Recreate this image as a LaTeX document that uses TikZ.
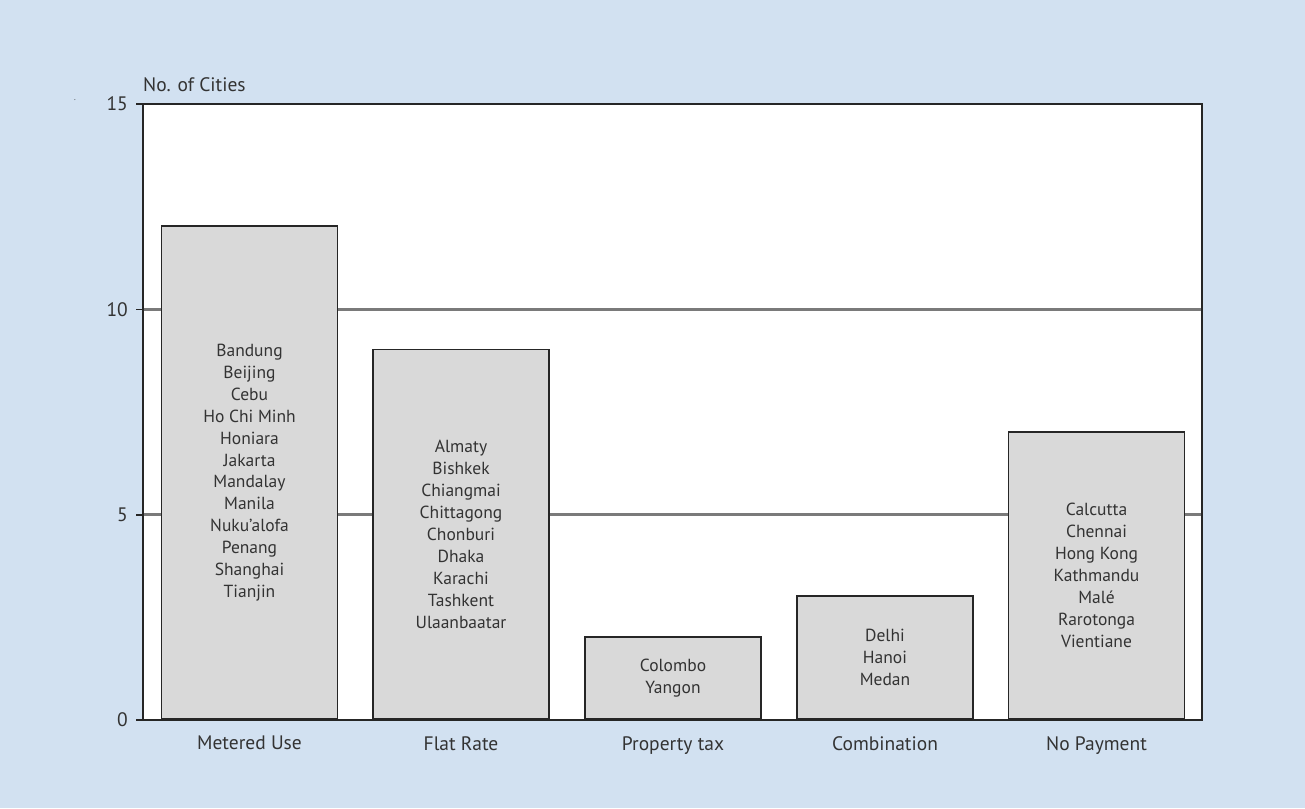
\documentclass[tikz,border=0pt]{standalone}
\usepackage{fontspec}
\setmainfont{PT Sans}
\definecolor{panel}{HTML}{D2E1F1}
\definecolor{barfill}{HTML}{D9D9D9}
\definecolor{ink}{HTML}{333333}
\definecolor{grid}{HTML}{7A7A7A}
\begin{document}
\begin{tikzpicture}[x=1pt,y=-1pt,
  every node/.style={font=\fontsize{19.5}{22}\selectfont, text=ink, inner sep=0pt},
  bar/.style={draw=black!85, line width=1.8pt, fill=barfill, anchor=south,
    minimum width=176pt, align=center, font=\fontsize{17.5}{21.9}\selectfont},
  cat/.style={anchor=north},
  tick/.style={anchor=east}]
  % background panel
  \fill[panel] (0,0) rectangle (1305,808);
  \useasboundingbox (0,0) rectangle (1305,808);
  \node (dot) at (75,100) {\fontsize{8}{8}\selectfont .};
  % plot area
  \fill[white] (143,104) rectangle (1202,720);
  % gridlines at 5 and 10
  \draw[grid, line width=2.5pt] (143,309.3) -- (1202,309.3);
  \draw[grid, line width=2.5pt] (143,514.7) -- (1202,514.7);
  % bars (41.07pt per city)
  \node[bar, minimum height=492.8pt] (b1) at (249.5,720) {Bandung\\Beijing\\Cebu\\Ho Chi Minh\\Honiara\\Jakarta\\Mandalay\\Manila\\Nuku'alofa\\Penang\\Shanghai\\Tianjin};
  \node[bar, minimum height=369.6pt] (b2) at (461,720) {Almaty\\Bishkek\\Chiangmai\\Chittagong\\Chonburi\\Dhaka\\Karachi\\Tashkent\\Ulaanbaatar};
  \node[bar, minimum height=82.1pt] (b3) at (673,720) {Colombo\\Yangon};
  \node[bar, minimum height=123.2pt] (b4) at (885,720) {Delhi\\Hanoi\\Medan};
  \node[bar, minimum height=287.5pt] (b5) at (1096.5,720) {Calcutta\\Chennai\\Hong Kong\\Kathmandu\\Malé\\Rarotonga\\Vientiane};
  % frame and axis ticks
  \draw[black!85, line width=2.4pt] (143,104) rectangle (1202,720);
  \foreach \v/\yy in {0/720,5/514.7,10/309.3,15/104}{
    \draw[black!85, line width=1.6pt] (136,\yy) -- (143,\yy);
    \node[tick] (t\v) at (128,\yy) {\v};
  }
  \node[anchor=south west] (ylab) at (143,92) {No. of Cities};
  % category labels
  \foreach \b/\t in {b1/Metered Use,b2/Flat Rate,b3/Property tax,b4/Combination,b5/No Payment}{
    \node[cat] (l\b) at ([yshift=-16pt]\b.south) {\t};
  }
\end{tikzpicture}
\end{document}
